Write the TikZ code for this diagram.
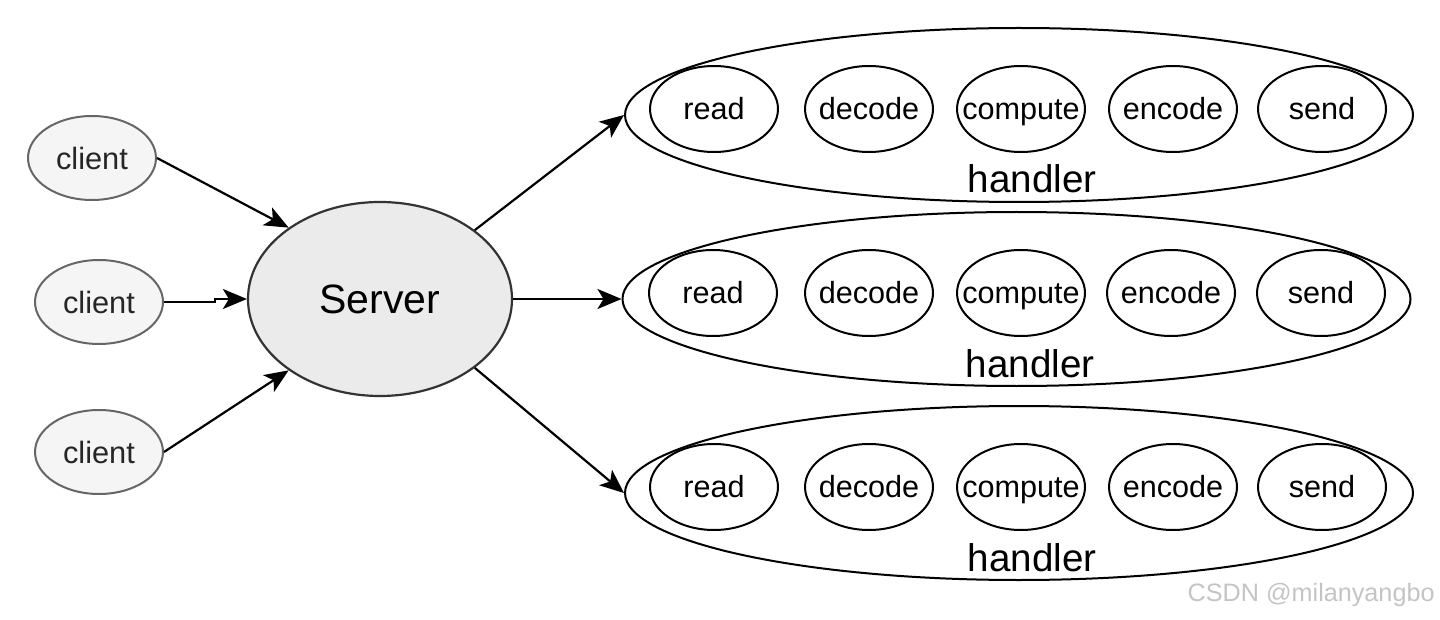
\documentclass[tikz,border=0pt]{standalone}
\usepackage{fontspec}
\setmainfont{Liberation Sans}
\usetikzlibrary{shapes.geometric,arrows.meta}
\definecolor{clientfill}{HTML}{F5F5F5}
\definecolor{clientdraw}{HTML}{666666}
\definecolor{serverfill}{HTML}{EBEBEB}
\definecolor{serverdraw}{HTML}{333333}
\definecolor{wmark}{HTML}{C4C4C4}
\begin{document}
\begin{tikzpicture}[x=0.5pt,y=-0.5pt,
  clientnode/.style={ellipse,draw=clientdraw,fill=clientfill,line width=1pt,inner sep=0pt,
    minimum width=64pt,minimum height=42pt,font=\fontsize{15.4}{17}\selectfont,text=black!85},
  servernode/.style={ellipse,draw=serverdraw,fill=serverfill,line width=1.1pt,inner sep=0pt,
    minimum width=132pt,minimum height=97pt,font=\fontsize{20.5}{23}\selectfont},
  handlernode/.style={ellipse,draw=black,line width=1pt,inner sep=0pt,
    minimum width=394pt,minimum height=87pt},
  stagenode/.style={ellipse,draw=black,line width=1pt,inner sep=0pt,
    minimum width=64pt,minimum height=43pt,
    label={[font=\fontsize{15.3}{17}\selectfont,inner sep=0pt,text height=12.4pt,text depth=1.8pt]center:#1}},
  hlabel/.style={font=\fontsize{19.3}{22}\selectfont,inner sep=0pt},
  conn/.style={line width=1.1pt,-{Stealth[length=12pt,width=10pt,inset=3pt]}}
]
\useasboundingbox (0,0) rectangle (1440,620);

% clients and server
\node[clientnode] (c1) at (92,158) {client};
\node[clientnode] (c2) at (99,302) {client};
\node[clientnode] (c3) at (99,452) {client};
\node[servernode] (srv) at (380,299) {Server};

% handlers
\node[handlernode] (h1) at (1019,115) {};
\node[handlernode] (h2) at (1016.5,299) {};
\node[handlernode] (h3) at (1019,493) {};

\node[hlabel] (l1) at (1032,179) {handler};
\node[hlabel] (l2) at (1030,364) {handler};
\node[hlabel] (l3) at (1032,558) {handler};

% stages row 1
\node[stagenode=read] (r1) at (714,109) {};
\node[stagenode=decode] (d1) at (869,109) {};
\node[stagenode=compute] (p1) at (1021,109) {};
\node[stagenode=encode] (e1) at (1173,109) {};
\node[stagenode=send] (s1) at (1322,109) {};
% stages row 2
\node[stagenode=read] (r2) at (713,293) {};
\node[stagenode=decode] (d2) at (869,293) {};
\node[stagenode=compute] (p2) at (1021,293) {};
\node[stagenode=encode] (e2) at (1171,293) {};
\node[stagenode=send] (s2) at (1321,293) {};
% stages row 3
\node[stagenode=read] (r3) at (714,487) {};
\node[stagenode=decode] (d3) at (869,487) {};
\node[stagenode=compute] (p3) at (1021,487) {};
\node[stagenode=encode] (e3) at (1173,487) {};
\node[stagenode=send] (s3) at (1322,487) {};

% connectors
\draw[conn] (c1.east) -- (srv.142);
\draw[conn] (c2.east) -- (c2.east -| 215,0) |- (srv.west);
\draw[conn] (c3.east) -- (srv.218);
\draw[conn] (srv.36) -- (h1.west);
\draw[conn] (srv.east) -- (h2.west);
\draw[conn] (srv.-36) -- (h3.west);

% watermark
\node[font=\fontsize{12.6}{15}\selectfont,text=wmark,inner sep=0pt,anchor=east] (wm) at (1435,595) {CSDN @milanyangbo};
\end{tikzpicture}
\end{document}
